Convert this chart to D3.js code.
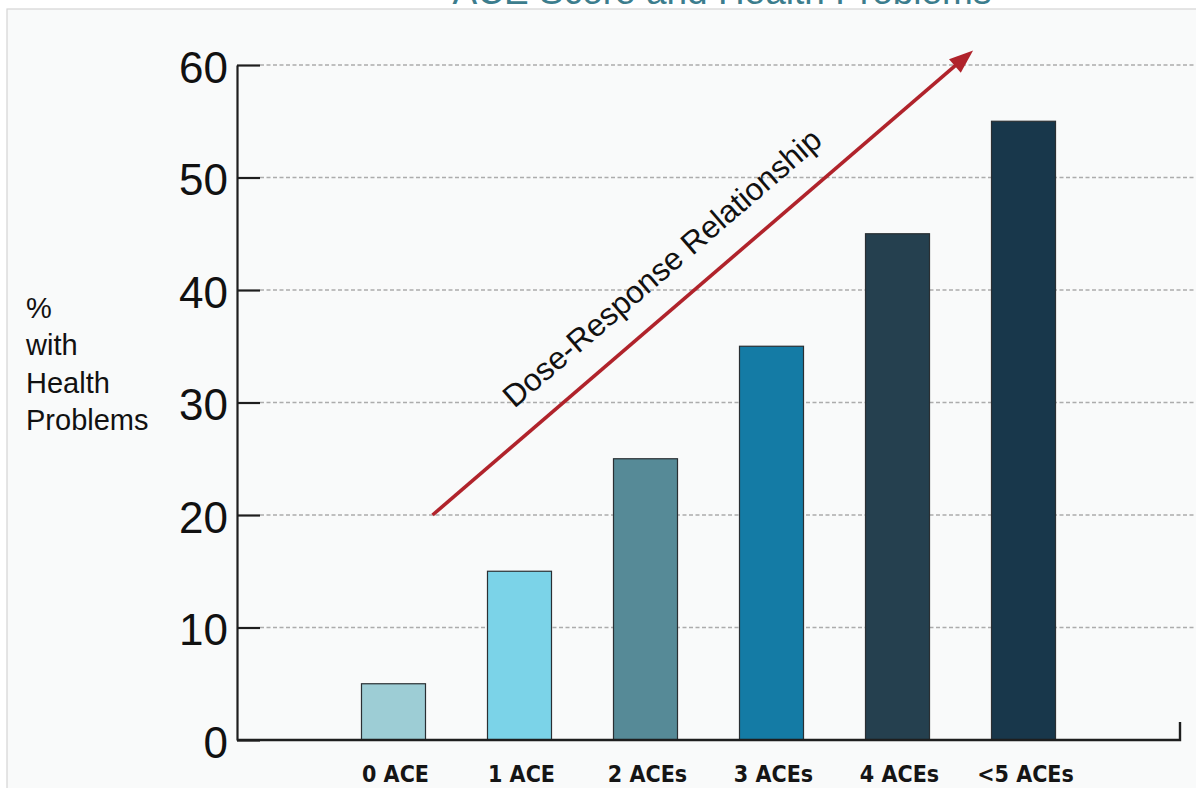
<!DOCTYPE html>
<html>
<head>
<meta charset="utf-8">
<script src="https://cdn.jsdelivr.net/npm/d3@7"></script>
<style>
  html, body { margin: 0; padding: 0; background: #ffffff; }
  svg { display: block; }
</style>
</head>
<body>
<svg id="chart" width="1196" height="788"></svg>
<script>
// ACE score groups and the share of people with health problems in each
const categories = ["0 ACE", "1 ACE", "2 ACEs", "3 ACEs", "4 ACEs", "<5 ACEs"];
const values = [5, 15, 25, 35, 45, 55];
const barColors = ["#9dcdd5", "#7bd3e8", "#568a97", "#147ba5", "#25404f", "#18374b"];
const yTicks = [0, 10, 20, 30, 40, 50, 60];
const yTitleLines = ["%", "with", "Health", "Problems"];
const title = "ACE Score and Health Problems";
const trendLabel = "Dose-Response Relationship";
// trend arrow ends, in (category position, value) terms
const trendStart = [0.31, 20];
const trendEnd = [4.6, 61.3];

const svg = d3.select("#chart");
const W = 1196, H = 788;

// panel
svg.append("rect").attr("x", 7).attr("y", 9).attr("width", W).attr("height", H)
  .attr("fill", "#f9fafa").attr("stroke", "#d4d4d4").attr("stroke-width", 1.2);

// title, partly above the visible frame
svg.append("text").attr("x", 722).attr("y", 4)
  .attr("text-anchor", "middle")
  .attr("font-family", "'Liberation Sans', Arial, sans-serif")
  .attr("font-size", 37).attr("fill", "#3c7d8d")
  .text(title);

const x = d3.scaleBand().domain(categories).range([237, 1180])
  .paddingInner(0.492).paddingOuter(0.988);
const y = d3.scaleLinear().domain([0, 60]).range([740, 65]);

const xPos = p => x(categories[0]) + x.bandwidth() / 2 + p * x.step();

// gridlines
svg.append("g").selectAll("line").data(yTicks.filter(d => d > 0)).join("line")
  .attr("x1", 260).attr("x2", W)
  .attr("y1", d => y(d)).attr("y2", d => y(d))
  .attr("stroke", "#acacac").attr("stroke-width", 1.3)
  .attr("stroke-dasharray", "4,2.5");

// bars
svg.append("g").selectAll("rect").data(values).join("rect")
  .attr("x", (d, i) => x(categories[i]))
  .attr("width", x.bandwidth())
  .attr("y", d => y(d))
  .attr("height", d => y(0) - y(d))
  .attr("fill", (d, i) => barColors[i])
  .attr("stroke", "#2a2f33").attr("stroke-width", 1.2);

// y axis
const yAxis = svg.append("g").attr("transform", "translate(237,0)")
  .call(d3.axisLeft(y).tickValues(yTicks).tickSize(-23).tickSizeOuter(0).tickPadding(9));
yAxis.select(".domain").attr("stroke", "#1e1e1e").attr("stroke-width", 2.2);
yAxis.selectAll(".tick line").attr("stroke", "#1e1e1e").attr("stroke-width", 2.2);
yAxis.selectAll(".tick text")
  .attr("font-family", "'Liberation Sans', Arial, sans-serif")
  .attr("font-size", 44).attr("fill", "#111")
  .attr("dy", 17);

// x axis baseline with closing end tick
const [x0, x1] = x.range();
svg.append("path")
  .attr("d", `M${x0},${y(0)}H${x1}V${y(0) - 18}`)
  .attr("fill", "none").attr("stroke", "#1e1e1e").attr("stroke-width", 2.4);

// category labels
svg.append("g").selectAll("text").data(categories).join("text")
  .attr("x", d => x(d) + x.bandwidth() / 2 + 2)
  .attr("y", 782)
  .attr("text-anchor", "middle")
  .attr("font-family", "'Liberation Sans Narrow', 'DejaVu Sans Condensed', 'Roboto', sans-serif")
  .attr("font-weight", "bold")
  .attr("font-size", 23).attr("fill", "#151515")
  .text(d => d);

// y axis title
svg.append("text")
  .attr("font-family", "'Liberation Sans', Arial, sans-serif")
  .attr("font-size", 29).attr("fill", "#111")
  .selectAll("tspan").data(yTitleLines).join("tspan")
  .attr("x", 26).attr("y", (d, i) => 318 + i * 37.3)
  .text(d => d);

// trend arrow
const ax0 = xPos(trendStart[0]), ay0 = y(trendStart[1]);
const ax1 = xPos(trendEnd[0]), ay1 = y(trendEnd[1]);
const len = Math.hypot(ax1 - ax0, ay1 - ay0);
const ux = (ax1 - ax0) / len, uy = (ay1 - ay0) / len;
const headL = 24, headW = 9;
const bx = ax1 - ux * headL, by = ay1 - uy * headL;
const red = "#b0232b";
svg.append("line")
  .attr("x1", ax0).attr("y1", ay0).attr("x2", bx + ux * 2).attr("y2", by + uy * 2)
  .attr("stroke", red).attr("stroke-width", 3.6);
svg.append("path")
  .attr("d", `M${ax1},${ay1}L${bx - uy * headW},${by + ux * headW}L${bx + uy * headW},${by - ux * headW}Z`)
  .attr("fill", red);

// label running along the arrow
const angle = Math.atan2(ay1 - ay0, ax1 - ax0) * 180 / Math.PI;
const along = 0.47 * len, off = 27;
const tx = ax0 + ux * along + uy * off, ty = ay0 + uy * along - ux * off;
svg.append("text")
  .attr("transform", `translate(${tx},${ty}) rotate(${angle})`)
  .attr("text-anchor", "middle")
  .attr("font-family", "'Liberation Sans', Arial, sans-serif")
  .attr("font-size", 31.5).attr("fill", "#111")
  .text(trendLabel);
</script>
</body>
</html>
